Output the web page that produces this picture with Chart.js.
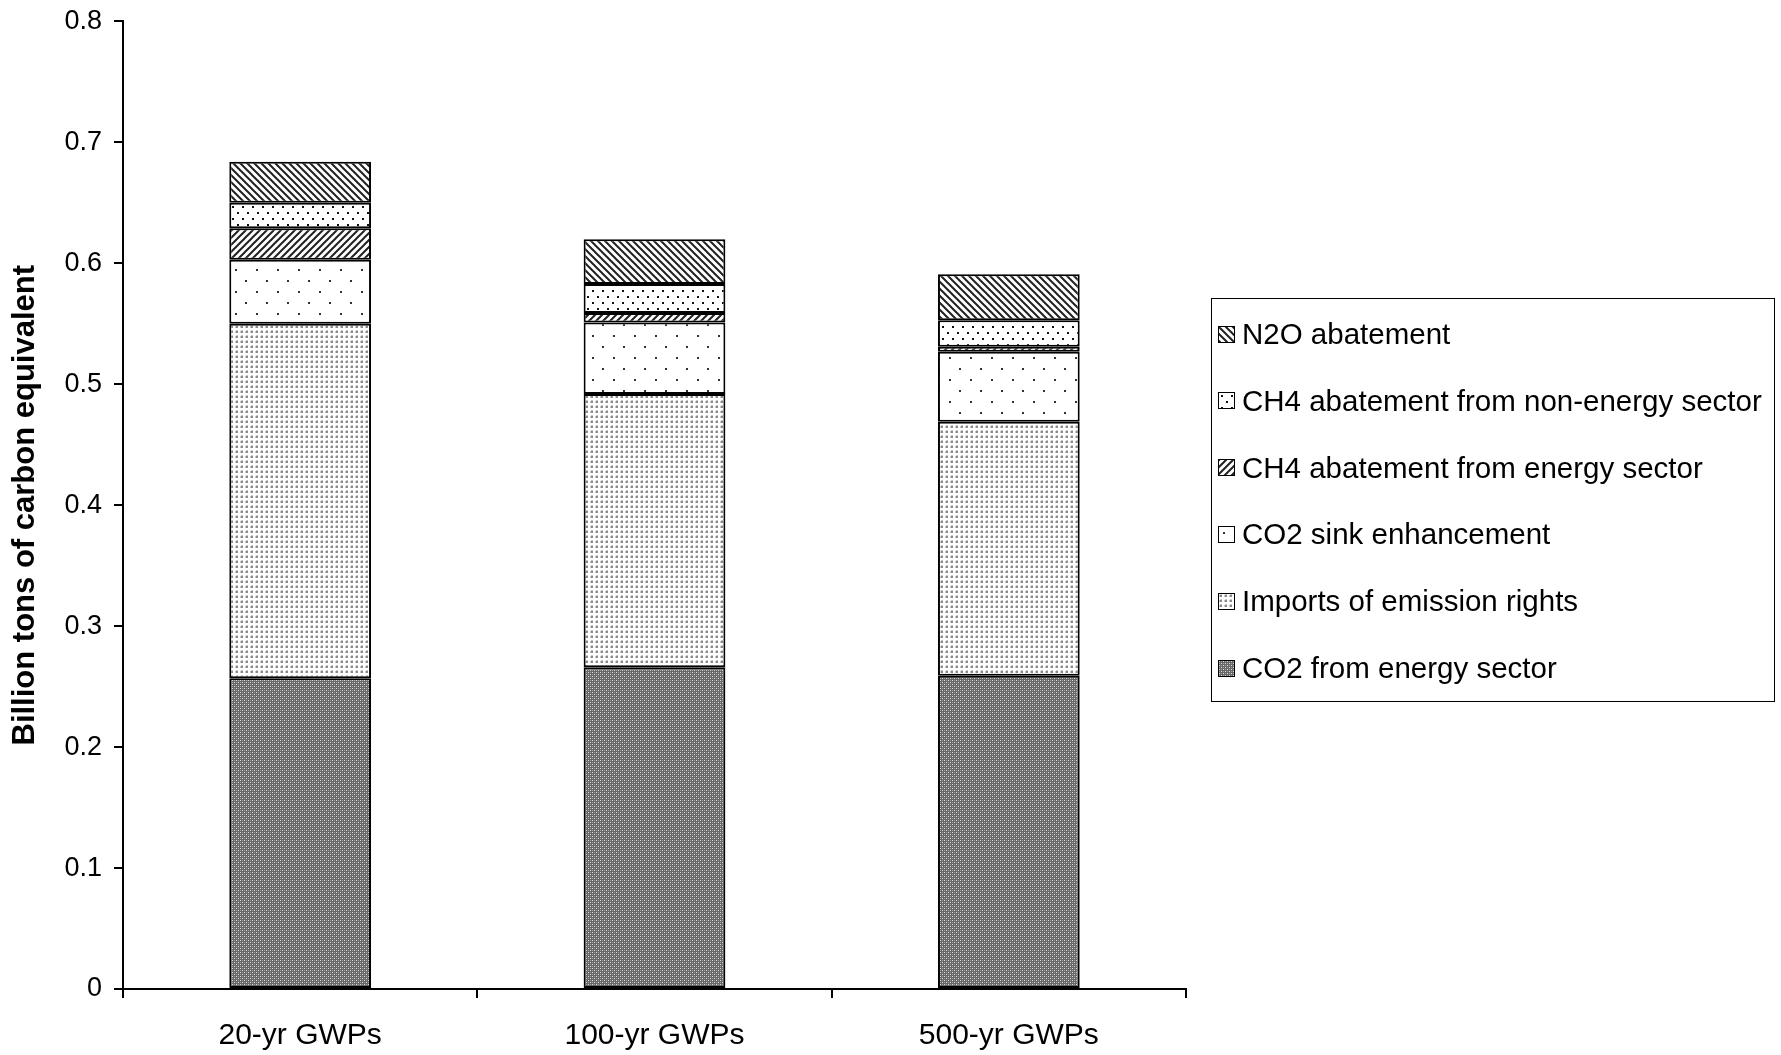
<!DOCTYPE html>
<html>
<head>
<meta charset="utf-8">
<script src="https://cdn.jsdelivr.net/npm/chart.js@4.4.1/dist/chart.umd.min.js"></script>
<style>
  body { margin: 0; background: #fff; font-family: "Liberation Sans", Arial, sans-serif; }
  #wrap { position: relative; width: 1781px; height: 1055px; }
  #legend {
    position: absolute; left: 1211px; top: 298px; width: 564px; height: 404px;
    border: 1px solid #000; box-sizing: border-box;
  }
  .item { position: absolute; left: 6px; height: 30px; display: flex; align-items: center;
    font-size: 29.5px; color: #000; white-space: nowrap; }
  .item canvas { border: 1.5px solid #000; margin-right: 7px; }
</style>
</head>
<body>
<div id="wrap">
  <canvas id="chart" width="1781" height="1055"></canvas>
  <div id="legend"></div>
</div>
<script>
var categories = ['20-yr GWPs', '100-yr GWPs', '500-yr GWPs'];
var co2Energy   = [0.257, 0.266, 0.259];
var imports     = [0.293, 0.226, 0.210];
var co2Sink     = [0.053, 0.059, 0.058];
var ch4Energy   = [0.026, 0.008, 0.004];
var ch4NonEnergy= [0.021, 0.024, 0.022];
var n2o         = [0.034, 0.037, 0.038];

var seriesNames = [
  'CO2 from energy sector',
  'Imports of emission rights',
  'CO2 sink enhancement',
  'CH4 abatement from energy sector',
  'CH4 abatement from non-energy sector',
  'N2O abatement'
];

// pattern tiles
function makeTile(w, h, draw) {
  var c = document.createElement('canvas');
  c.width = w; c.height = h;
  var g = c.getContext('2d');
  draw(g, w, h);
  return c;
}

var tiles = [
  // CO2 from energy sector: dark checker
  makeTile(4, 4, function(g){
    g.fillStyle = '#676767'; g.fillRect(0,0,4,4);
    g.fillStyle = '#dcdcdc'; g.fillRect(0,0,1,1); g.fillRect(2,2,1,1);
    g.fillStyle = '#a4a4a4'; g.fillRect(2,0,1,1); g.fillRect(0,2,1,1);
  }),
  // Imports: fine grey dots
  makeTile(5, 5, function(g){
    g.fillStyle = '#fff'; g.fillRect(0,0,5,5);
    g.fillStyle = '#8a8a8a'; g.fillRect(1,1,2,2);
    g.fillStyle = '#c8c8c8'; g.fillRect(0,1,1,2); g.fillRect(1,0,2,1);
  }),
  // CO2 sink: sparse dots
  makeTile(21, 22, function(g){
    g.fillStyle = '#fff'; g.fillRect(0,0,21,22);
    g.fillStyle = '#333'; g.fillRect(4,5,2,2); g.fillRect(14,16,2,2);
  }),
  // CH4 energy: forward diagonal
  makeTile(7, 7, function(g){
    g.fillStyle = '#fff'; g.fillRect(0,0,7,7);
    g.strokeStyle = '#222'; g.lineWidth = 2;
    g.beginPath();
    g.moveTo(-1, 8); g.lineTo(8, -1);
    g.moveTo(-8, 8); g.lineTo(1, -1);
    g.moveTo(6, 8); g.lineTo(15, -1);
    g.stroke();
  }),
  // CH4 non-energy: medium dots
  makeTile(10, 12, function(g){
    g.fillStyle = '#fff'; g.fillRect(0,0,10,12);
    g.fillStyle = '#111'; g.fillRect(2,2,2,2); g.fillRect(7,8,2,2);
  }),
  // N2O: backward diagonal
  makeTile(7, 7, function(g){
    g.fillStyle = '#fff'; g.fillRect(0,0,7,7);
    g.strokeStyle = '#222'; g.lineWidth = 2;
    g.beginPath();
    g.moveTo(-1, -1); g.lineTo(8, 8);
    g.moveTo(-8, -1); g.lineTo(1, 8);
    g.moveTo(6, -1); g.lineTo(15, 8);
    g.stroke();
  })
];

var ctx = document.getElementById('chart').getContext('2d');
var patterns = tiles.map(function(t){ return ctx.createPattern(t, 'repeat'); });

var values = [co2Energy, imports, co2Sink, ch4Energy, ch4NonEnergy, n2o];
var datasets = values.map(function(v, i){
  return {
    label: seriesNames[i],
    data: v,
    backgroundColor: patterns[i],
    borderColor: '#000',
    borderWidth: 2,
    borderSkipped: false,
    barPercentage: 0.4,
    categoryPercentage: 1.0
  };
});

var chart = new Chart(ctx, {
  type: 'bar',
  data: { labels: categories, datasets: datasets },
  options: {
    responsive: false,
    animation: false,
    layout: { padding: { top: 20, right: 595, bottom: 0, left: 0 } },
    plugins: { legend: { display: false }, tooltip: { enabled: false } },
    scales: {
      x: {
        stacked: true,
        border: { color: '#000', width: 2 },
        grid: { drawOnChartArea: false, color: '#000', tickLength: 9, lineWidth: 2, offset: true },
        ticks: { color: '#000', font: { family: 'Liberation Sans', size: 30 }, padding: 20 },
        afterFit: function(s){ s.height = 66; }
      },
      y: {
        stacked: true,
        min: 0, max: 0.8,
        border: { color: '#000', width: 2 },
        grid: { drawOnChartArea: false, color: '#000', tickLength: 9, lineWidth: 2 },
        ticks: {
          stepSize: 0.1, color: '#000', padding: 12,
          font: { family: 'Liberation Sans', size: 27, lineHeight: 0.7 },
          callback: function(v){ return Math.round(v * 10) / 10; }
        },
        title: {
          display: true, text: 'Billion tons of carbon equivalent', color: '#000',
          font: { family: 'Liberation Sans', size: 31, weight: 'bold' },
          padding: { top: 7, bottom: 0 }
        },
        afterFit: function(s){ s.width = 123; }
      }
    }
  }
});

// legend, top to bottom in reverse order
var legend = document.getElementById('legend');
for (var i = seriesNames.length - 1; i >= 0; i--) {
  var row = document.createElement('div');
  row.className = 'item';
  row.style.top = (20 + (seriesNames.length - 1 - i) * 66.8) + 'px';
  var sw = document.createElement('canvas');
  sw.width = 15; sw.height = 15;
  var sctx = sw.getContext('2d');
  sctx.fillStyle = sctx.createPattern(tiles[i], 'repeat');
  sctx.fillRect(0, 0, 15, 15);
  row.appendChild(sw);
  row.appendChild(document.createTextNode(seriesNames[i]));
  legend.appendChild(row);
}
</script>
</body>
</html>
